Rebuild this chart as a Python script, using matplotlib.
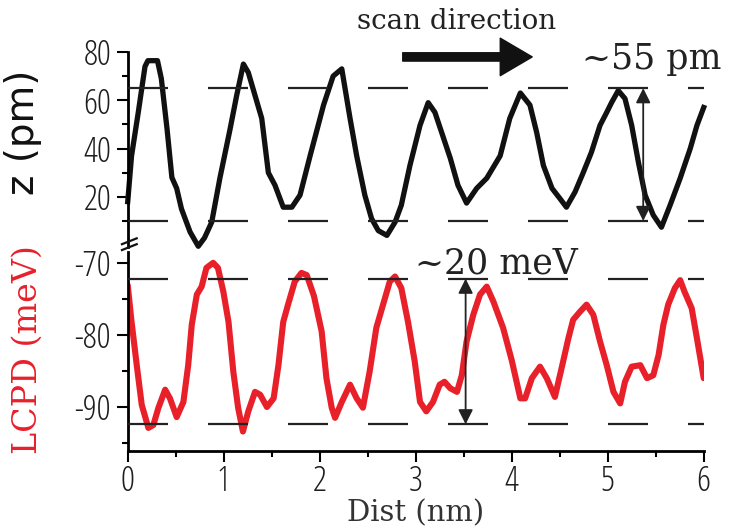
import numpy as np
import matplotlib
matplotlib.use("Agg")
import matplotlib.pyplot as plt
from matplotlib.lines import Line2D

plt.rcParams['axes.unicode_minus'] = False
plt.rcParams['lines.scale_dashes'] = False

# topography z (pm) vs distance (nm)
z_x = [0, 0.04, 0.11, 0.18, 0.21, 0.31, 0.35, 0.41, 0.46, 0.51, 0.56, 0.65, 0.735, 0.8, 0.875,
       0.96, 1.066, 1.135, 1.205, 1.256, 1.326, 1.396, 1.465, 1.534, 1.62, 1.71, 1.795, 1.9,
       2.04, 2.14, 2.23, 2.316, 2.385, 2.47, 2.54, 2.61, 2.70, 2.785, 2.85, 2.94, 3.045, 3.13,
       3.2, 3.27, 3.36, 3.44, 3.53, 3.635, 3.74, 3.88, 3.98, 4.09, 4.19, 4.26, 4.33, 4.42, 4.5,
       4.57, 4.66, 4.745, 4.83, 4.92, 4.99, 5.04, 5.11, 5.18, 5.25, 5.32, 5.39, 5.475, 5.56,
       5.65, 5.755, 5.86, 5.93, 6.0]
z_val = [18, 37, 55, 74, 76.4, 76.4, 69, 48, 28, 23.5, 15, 5.4, -0.5, 3, 9.5,
         27.7, 48, 62, 75, 71.5, 62, 52.5, 30, 24.8, 15.7, 15.7, 20.7, 37,
         58, 70, 73, 52.5, 37, 20.7, 11, 6, 4, 9.5, 16.5, 33, 49.6, 59,
         55, 46.7, 36, 24.8, 17.4, 23.5, 27.7, 37, 52.5, 63, 58, 46.7, 33, 23.5, 19.4,
         15.7, 22, 30, 38.4, 49.6, 55, 59, 64, 60.7, 49.6, 34.3, 20.7, 12.4, 7.4,
         16.5, 27.7, 40, 49.6, 57]

# LCPD (meV) vs distance (nm)
l_x = [0, 0.04, 0.094, 0.146, 0.215, 0.267, 0.32, 0.39, 0.44, 0.51, 0.58, 0.63, 0.667, 0.72,
       0.77, 0.82, 0.89, 0.94, 0.996, 1.05, 1.1, 1.15, 1.2, 1.256, 1.326, 1.38, 1.45, 1.52,
       1.57, 1.62, 1.67, 1.74, 1.81, 1.865, 1.94, 2.02, 2.07, 2.125, 2.16, 2.23, 2.316, 2.385,
       2.45, 2.52, 2.59, 2.66, 2.73, 2.785, 2.85, 2.92, 2.99, 3.045, 3.11, 3.18, 3.25, 3.3,
       3.36, 3.43, 3.48, 3.53, 3.6, 3.67, 3.74, 3.81, 3.91, 4.0, 4.09, 4.14, 4.21, 4.295,
       4.365, 4.45, 4.52, 4.59, 4.64, 4.71, 4.78, 4.85, 4.92, 4.99, 5.06, 5.13, 5.18, 5.25,
       5.34, 5.41, 5.475, 5.53, 5.58, 5.63, 5.70, 5.755, 5.8, 5.875, 5.93, 6.0]
l_val = [-73.1, -78.2, -84.2, -89.7, -92.9, -92.5, -90.1, -87.6, -88.8, -91.4, -89.3, -84.2, -78.6, -74.4,
         -73.3, -70.7, -70, -70.7, -74, -78.2, -85.1, -90.1, -93.4, -90.6, -87.9, -88.3, -90, -88.8,
         -84.2, -78.2, -75.8, -72.6, -71.4, -71.7, -74.6, -79.5, -86, -90.1, -91.5, -89.3, -86.9, -88.8,
         -90.1, -85.1, -79, -75.8, -72.6, -71.9, -73.5, -78.2, -83.7, -89.3, -90.6, -89.3, -86.9, -86.5,
         -87.4, -87.9, -85.6, -80.9, -77.2, -74.4, -73.3, -75.4, -79, -83.5, -88.8, -88.8, -86, -84.4,
         -86, -88.6, -84.6, -80.5, -77.9, -76.8, -75.8, -77.2, -80.9, -84.2, -87.9, -89.5, -86.5, -84.4,
         -84.2, -86, -85.6, -82.8, -78.6, -75.8, -73.5, -72.4, -74, -76.3, -80.5, -86]

z_levels = [65, 10]
l_levels = [-72.2, -92.4]
z_arrow_x = 5.37
l_arrow_x = 3.52

red = '#e8202a'
serif = 'DejaVu Serif'

fig = plt.figure(figsize=(7.37, 5.32), dpi=100)
ax1 = fig.add_axes([0.1733, 0.5357, 0.7815, 0.3666])
ax2 = fig.add_axes([0.1733, 0.1523, 0.7815, 0.374])

for ax in (ax1, ax2):
    ax.set_xlim(0, 6)
    ax.spines['top'].set_visible(False)
    ax.spines['right'].set_visible(False)
    ax.spines['left'].set_linewidth(2)
    ax.spines['bottom'].set_linewidth(2)
    ax.tick_params(which='major', direction='out', length=8, width=1.5, pad=4)
    ax.tick_params(which='minor', direction='out', length=4, width=1.5)

ax1.spines['bottom'].set_visible(False)
ax1.set_ylim(-0.8, 80)
ax1.set_yticks([20, 40, 60, 80])
ax1.set_yticks([10, 30, 50, 70], minor=True)
ax1.set_xticks([])
ax1.set_xticks([], minor=True)

ax2.set_ylim(-96.1, -68.5)
ax2.set_yticks([-90, -80, -70])
ax2.set_yticks([-95, -85, -75], minor=True)
ax2.set_xticks(range(7))
ax2.set_xticks(np.arange(0.5, 6, 1), minor=True)
ax2.tick_params(axis='x', pad=2)

for ax in (ax1, ax2):
    for lab in ax.get_yticklabels() + ax.get_xticklabels():
        lab.set_family('Open Sans')
        lab.set_fontstretch('condensed')
        lab.set_fontweight(300)
        lab.set_fontsize(25)
        lab.set_color('#1e1e1e')

for lv in z_levels:
    ax1.axhline(lv, color='#222222', lw=1.6, linestyle=(0, (28.8, 28.8)), zorder=3)
for lv in l_levels:
    ax2.axhline(lv, color='#222222', lw=1.6, linestyle=(0, (28.8, 28.8)), zorder=3)

ax1.plot(z_x, z_val, color='#111111', lw=3.8, solid_joinstyle='round', clip_on=False, zorder=2)
ax2.plot(l_x, l_val, color=red, lw=4.4, solid_joinstyle='round', solid_capstyle='round', zorder=2)

ax1.annotate('', xy=(z_arrow_x, z_levels[1]), xytext=(z_arrow_x, z_levels[0]),
             arrowprops=dict(arrowstyle='<|-|>', color='#222222', lw=1.3, mutation_scale=22,
                             shrinkA=0, shrinkB=0), zorder=4)
ax2.annotate('', xy=(l_arrow_x, l_levels[1]), xytext=(l_arrow_x, l_levels[0]),
             arrowprops=dict(arrowstyle='<|-|>', color='#222222', lw=1.3, mutation_scale=22,
                             shrinkA=0, shrinkB=0), zorder=4)

ax1.set_ylabel('z (pm)', fontsize=28, color='#111111', family='DejaVu Sans')
ax1.yaxis.set_label_coords(-0.148, 0.59)
ax2.set_ylabel('LCPD (meV)', fontsize=24, color=red, family=serif)
ax2.yaxis.set_label_coords(-0.146, 0.51)
ax2.set_xlabel('Dist (nm)', fontsize=21, color='#333333', family=serif, labelpad=0)

fig.text(0.619, 0.959, 'scan direction', fontsize=20, family=serif, color='#222222',
         ha='center', va='center')
fig.patches.append(matplotlib.patches.FancyArrowPatch(
    (0.5427, 0.893), (0.7259, 0.893), transform=fig.transFigure,
    arrowstyle='simple,head_length=1.15,head_width=1.35,tail_width=0.3',
    mutation_scale=20, color='#111111'))
fig.text(0.885, 0.889, '~55 pm', fontsize=25, family=serif, color='#222222',
         ha='center', va='center')
fig.text(0.673, 0.505, '~20 meV', fontsize=25, family=serif, color='#222222',
         ha='center', va='center')

# axis break mark
for dy in (0.0, 0.011):
    fig.add_artist(Line2D([0.1655, 0.1855], [0.530 + dy, 0.541 + dy], color='#111111',
                          lw=1.6, transform=fig.transFigure))

fig.savefig('out.png', dpi=100)
